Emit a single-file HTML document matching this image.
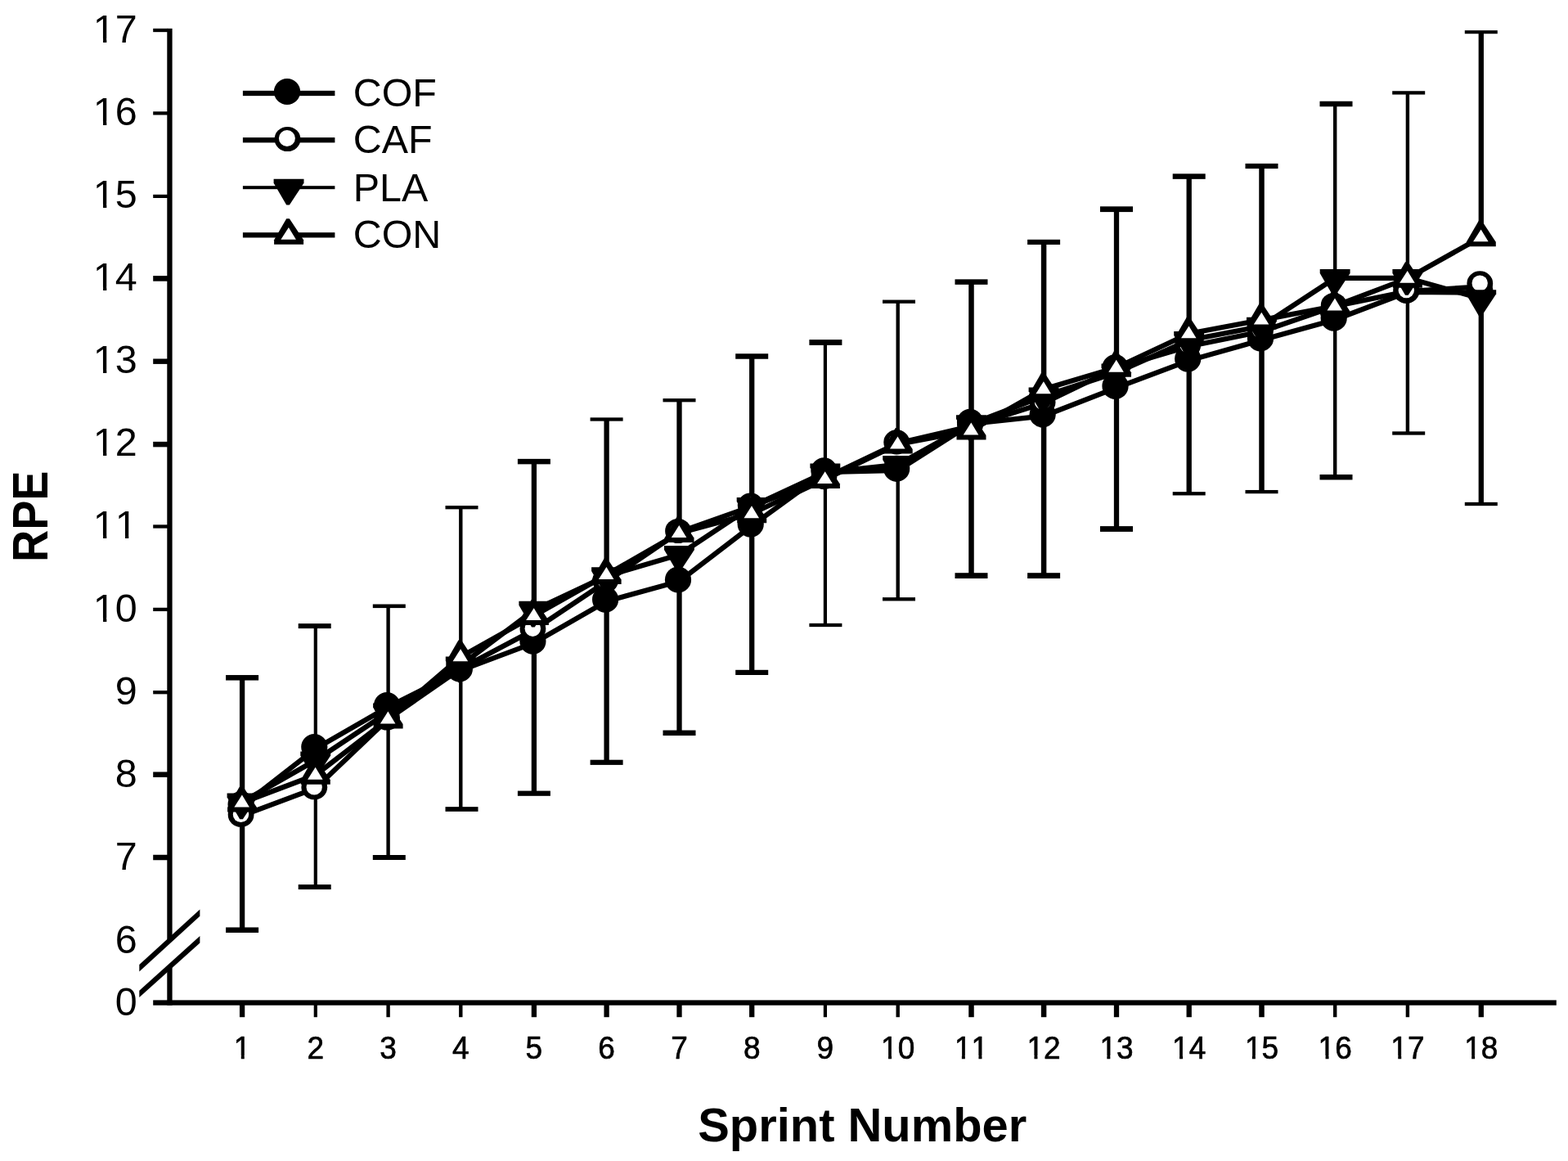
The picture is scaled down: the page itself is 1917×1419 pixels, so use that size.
<!DOCTYPE html>
<html lang="en"><head><meta charset="utf-8"><title>RPE by Sprint Number</title>
<style>
html,body{margin:0;padding:0;background:#fff;}
body{width:1917px;height:1419px;overflow:hidden;}
svg{display:block;}
text{font-family:"Liberation Sans",Arial,Helvetica,sans-serif;fill:#000;font-kerning:none;}
.b{font-weight:bold;}
.k{fill:#000;} .w{fill:#fff;}
.ln{fill:none;stroke:#000;stroke-linejoin:miter;stroke-linecap:butt;}
</style></head><body>
<svg width="1917" height="1419" viewBox="0 0 1917 1419">
<rect x="0" y="0" width="1917" height="1419" fill="#fff"/>
<g id="axes">
<rect class="k" x="204.3" y="34.85" width="6.3" height="1193.85"/>
<rect class="k" x="187.2" y="1222.4" width="1715.6" height="6.3"/>
<rect class="k" x="187.2" y="34.85" width="18.1" height="4.3"/>
<rect class="k" x="187.2" y="136.3" width="18.1" height="4.2"/>
<rect class="k" x="187.2" y="237.8" width="18.1" height="4.2"/>
<rect class="k" x="187.2" y="337.1" width="18.1" height="6.6"/>
<rect class="k" x="187.2" y="438.5" width="18.1" height="6.4"/>
<rect class="k" x="187.2" y="539.85" width="18.1" height="6.5"/>
<rect class="k" x="187.2" y="641.35" width="18.1" height="4.3"/>
<rect class="k" x="187.2" y="742.75" width="18.1" height="4.3"/>
<rect class="k" x="187.2" y="844.05" width="18.1" height="4.3"/>
<rect class="k" x="187.2" y="943.45" width="18.1" height="6.5"/>
<rect class="k" x="187.2" y="1044.75" width="18.1" height="6.5"/>
<rect class="k" x="292.95" y="1227.7" width="6.3" height="15.5"/>
<rect class="k" x="383.7" y="1227.7" width="4.2" height="15.5"/>
<rect class="k" x="472.4" y="1227.7" width="4.4" height="15.5"/>
<rect class="k" x="561.1" y="1227.7" width="4.4" height="15.5"/>
<rect class="k" x="649.75" y="1227.7" width="6.3" height="15.5"/>
<rect class="k" x="738.45" y="1227.7" width="6.3" height="15.5"/>
<rect class="k" x="827.35" y="1227.7" width="6.3" height="15.5"/>
<rect class="k" x="916.05" y="1227.7" width="6.3" height="15.5"/>
<rect class="k" x="1006.8" y="1227.7" width="4.2" height="15.5"/>
<rect class="k" x="1095.5" y="1227.7" width="4.4" height="15.5"/>
<rect class="k" x="1184.25" y="1227.7" width="6.5" height="15.5"/>
<rect class="k" x="1272.85" y="1227.7" width="6.5" height="15.5"/>
<rect class="k" x="1361.85" y="1227.7" width="6.3" height="15.5"/>
<rect class="k" x="1450.55" y="1227.7" width="6.3" height="15.5"/>
<rect class="k" x="1539.25" y="1227.7" width="6.5" height="15.5"/>
<rect class="k" x="1630" y="1227.7" width="4.4" height="15.5"/>
<rect class="k" x="1718.7" y="1227.7" width="4.4" height="15.5"/>
<rect class="k" x="1807.65" y="1227.7" width="6.3" height="15.5"/>
</g>
<g id="axis-break">
<polygon class="w" points="170.3,1183.3 244.4,1115.6 244.4,1148.3 170.3,1214.9"/>
<polygon class="k" points="170.3,1179.1 244.4,1111.4 244.4,1119.8 170.3,1187.5"/>
<polygon class="k" points="170.3,1210.7 244.4,1144.1 244.4,1152.5 170.3,1219.1"/>
</g>
<g id="errorbars">
<rect class="k" x="292.95" y="828.3" width="6.3" height="151.7"/>
<rect class="k" x="292.95" y="995.7" width="6.3" height="141"/>
<rect class="k" x="276.1" y="825.05" width="40" height="6.5"/>
<rect class="k" x="276.1" y="1133.45" width="40" height="6.5"/>
<rect class="k" x="383.7" y="765.1" width="4.2" height="147.9"/>
<rect class="k" x="383.7" y="962.2" width="4.2" height="121.9"/>
<rect class="k" x="364.7" y="762.1" width="40" height="6"/>
<rect class="k" x="364.7" y="1081.1" width="40" height="6"/>
<rect class="k" x="472.4" y="740.8" width="4.4" height="121.2"/>
<rect class="k" x="472.4" y="879" width="4.4" height="169"/>
<rect class="k" x="455.8" y="738.5" width="40" height="4.6"/>
<rect class="k" x="455.8" y="1045" width="40" height="6"/>
<rect class="k" x="561.1" y="620.2" width="4.4" height="182.5"/>
<rect class="k" x="561.1" y="817.4" width="4.4" height="171.6"/>
<rect class="k" x="544.5" y="618.05" width="40" height="4.3"/>
<rect class="k" x="544.5" y="986.15" width="40" height="5.7"/>
<rect class="k" x="649.75" y="564.1" width="6.3" height="181.2"/>
<rect class="k" x="649.75" y="783.8" width="6.3" height="185.9"/>
<rect class="k" x="632.9" y="560.85" width="40" height="6.5"/>
<rect class="k" x="632.9" y="966.6" width="40" height="6.2"/>
<rect class="k" x="738.45" y="512.5" width="6.3" height="190"/>
<rect class="k" x="738.45" y="732.8" width="6.3" height="199"/>
<rect class="k" x="721.6" y="510.35" width="40" height="4.3"/>
<rect class="k" x="721.6" y="928.7" width="40" height="6.2"/>
<rect class="k" x="827.35" y="489.2" width="6.3" height="159.8"/>
<rect class="k" x="827.35" y="708.5" width="6.3" height="187.3"/>
<rect class="k" x="810.5" y="487.05" width="40" height="4.3"/>
<rect class="k" x="810.5" y="892.55" width="40" height="6.5"/>
<rect class="k" x="916.05" y="435.5" width="6.3" height="182.1"/>
<rect class="k" x="916.05" y="640.6" width="6.3" height="181.3"/>
<rect class="k" x="899.2" y="432.25" width="40" height="6.5"/>
<rect class="k" x="899.2" y="818.8" width="40" height="6.2"/>
<rect class="k" x="1006.8" y="418.5" width="4.2" height="156.7"/>
<rect class="k" x="1006.8" y="585.6" width="4.2" height="178.4"/>
<rect class="k" x="989.4" y="415.1" width="40" height="6.8"/>
<rect class="k" x="989.4" y="761.85" width="40" height="4.3"/>
<rect class="k" x="1095.5" y="368.7" width="4.4" height="171.7"/>
<rect class="k" x="1095.5" y="572.8" width="4.4" height="159.5"/>
<rect class="k" x="1079" y="366.55" width="40" height="4.3"/>
<rect class="k" x="1079" y="730.15" width="40" height="4.3"/>
<rect class="k" x="1184.25" y="344.6" width="6.5" height="171.2"/>
<rect class="k" x="1184.25" y="526" width="6.5" height="177.6"/>
<rect class="k" x="1167.5" y="341.35" width="40" height="6.5"/>
<rect class="k" x="1167.5" y="700.2" width="40" height="6.8"/>
<rect class="k" x="1272.85" y="295.9" width="6.5" height="179.8"/>
<rect class="k" x="1272.85" y="506.5" width="6.5" height="197.1"/>
<rect class="k" x="1256.1" y="292.8" width="40" height="6.2"/>
<rect class="k" x="1256.1" y="700.2" width="40" height="6.8"/>
<rect class="k" x="1361.85" y="255.7" width="6.3" height="192.7"/>
<rect class="k" x="1361.85" y="471.9" width="6.3" height="174.6"/>
<rect class="k" x="1345" y="252.3" width="40" height="6.8"/>
<rect class="k" x="1345" y="643.1" width="40" height="6.8"/>
<rect class="k" x="1450.55" y="215.6" width="6.3" height="192.2"/>
<rect class="k" x="1450.55" y="438.6" width="6.3" height="164.7"/>
<rect class="k" x="1433.7" y="212.35" width="40" height="6.5"/>
<rect class="k" x="1433.7" y="601.15" width="40" height="4.3"/>
<rect class="k" x="1539.25" y="203" width="6.5" height="188.1"/>
<rect class="k" x="1539.25" y="413.5" width="6.5" height="187.6"/>
<rect class="k" x="1522.5" y="199.9" width="40" height="6.2"/>
<rect class="k" x="1522.5" y="598.95" width="40" height="4.3"/>
<rect class="k" x="1630" y="127" width="4.4" height="212.5"/>
<rect class="k" x="1630" y="388.7" width="4.4" height="194.5"/>
<rect class="k" x="1613.5" y="123.75" width="40" height="6.5"/>
<rect class="k" x="1613.5" y="579.95" width="40" height="6.5"/>
<rect class="k" x="1718.7" y="113.4" width="4.4" height="226.1"/>
<rect class="k" x="1718.7" y="355" width="4.4" height="174.5"/>
<rect class="k" x="1702.2" y="111.25" width="40" height="4.3"/>
<rect class="k" x="1702.2" y="527.35" width="40" height="4.3"/>
<rect class="k" x="1807.65" y="39.2" width="6.3" height="250.6"/>
<rect class="k" x="1807.65" y="364.8" width="6.3" height="251.2"/>
<rect class="k" x="1790.8" y="37.15" width="40" height="4.1"/>
<rect class="k" x="1790.8" y="613.85" width="40" height="4.3"/>
</g>
<g id="series-cof">
<polyline class="ln" stroke-width="6.2" points="296.1,985 385.8,915 474.6,864 563.3,819.4 652.9,785.8 741.6,734.8 830.5,710.5 919.2,642.6 1008.9,577.2 1097.7,574.8 1187.5,517.8 1276.1,508.5 1365,473.9 1453.7,440.6 1542.5,415.5 1632.2,390.7 1720.9,357 1810.8,357.7"/>
<ellipse class="k" cx="294.6" cy="983" rx="16.1" ry="16"/>
<ellipse class="k" cx="384.3" cy="913" rx="16.1" ry="16"/>
<ellipse class="k" cx="473.1" cy="862" rx="16.1" ry="16"/>
<ellipse class="k" cx="561.8" cy="817.4" rx="16.1" ry="16"/>
<ellipse class="k" cx="651.4" cy="783.8" rx="16.1" ry="16"/>
<ellipse class="k" cx="740.1" cy="732.8" rx="16.1" ry="16"/>
<ellipse class="k" cx="829" cy="708.5" rx="16.1" ry="16"/>
<ellipse class="k" cx="917.7" cy="640.6" rx="16.1" ry="16"/>
<ellipse class="k" cx="1007.4" cy="575.2" rx="16.1" ry="16"/>
<ellipse class="k" cx="1096.2" cy="572.8" rx="16.1" ry="16"/>
<ellipse class="k" cx="1186" cy="515.8" rx="16.1" ry="16"/>
<ellipse class="k" cx="1274.6" cy="506.5" rx="16.1" ry="16"/>
<ellipse class="k" cx="1363.5" cy="471.9" rx="16.1" ry="16"/>
<ellipse class="k" cx="1452.2" cy="438.6" rx="16.1" ry="16"/>
<ellipse class="k" cx="1541" cy="413.5" rx="16.1" ry="16"/>
<ellipse class="k" cx="1630.7" cy="388.7" rx="16.1" ry="16"/>
<ellipse class="k" cx="1719.4" cy="355" rx="16.1" ry="16"/>
<ellipse class="k" cx="1809.3" cy="355.7" rx="16.1" ry="16"/>
</g>
<g id="series-caf">
<polyline class="ln" stroke-width="6.2" points="296.1,996.9 385.8,963.4 474.6,878.7 563.3,817.2 652.9,769.8 741.6,710.7 830.5,650.2 919.2,618.8 1008.9,584.2 1097.7,541.6 1187.5,520.7 1276.1,492.7 1365,449.6 1453.7,423.2 1542.5,405.2 1632.2,374.2 1720.9,356.2 1810.8,350.3"/>
<ellipse class="k" cx="294.6" cy="995.7" rx="15.9" ry="15.1"/><ellipse class="w" cx="294.5" cy="995.4" rx="9.7" ry="9.6"/>
<ellipse class="k" cx="384.3" cy="962.2" rx="15.9" ry="15.1"/><ellipse class="w" cx="384.2" cy="961.9" rx="9.7" ry="9.6"/>
<ellipse class="k" cx="473.1" cy="877.5" rx="15.9" ry="15.1"/><ellipse class="w" cx="473" cy="877.2" rx="9.7" ry="9.6"/>
<ellipse class="k" cx="561.8" cy="816" rx="15.9" ry="15.1"/><ellipse class="w" cx="561.7" cy="815.7" rx="9.7" ry="9.6"/>
<ellipse class="k" cx="651.4" cy="768.6" rx="15.9" ry="15.1"/><ellipse class="w" cx="651.3" cy="768.3" rx="9.7" ry="9.6"/>
<ellipse class="k" cx="740.1" cy="709.5" rx="15.9" ry="15.1"/><ellipse class="w" cx="740" cy="709.2" rx="9.7" ry="9.6"/>
<ellipse class="k" cx="829" cy="649" rx="15.9" ry="15.1"/><ellipse class="w" cx="828.9" cy="648.7" rx="9.7" ry="9.6"/>
<ellipse class="k" cx="917.7" cy="617.6" rx="15.9" ry="15.1"/><ellipse class="w" cx="917.6" cy="617.3" rx="9.7" ry="9.6"/>
<ellipse class="k" cx="1007.4" cy="583" rx="15.9" ry="15.1"/><ellipse class="w" cx="1007.3" cy="582.7" rx="9.7" ry="9.6"/>
<ellipse class="k" cx="1096.2" cy="540.4" rx="15.9" ry="15.1"/><ellipse class="w" cx="1096.1" cy="540.1" rx="9.7" ry="9.6"/>
<ellipse class="k" cx="1186" cy="519.5" rx="15.9" ry="15.1"/><ellipse class="w" cx="1185.9" cy="519.2" rx="9.7" ry="9.6"/>
<ellipse class="k" cx="1274.6" cy="491.5" rx="15.9" ry="15.1"/><ellipse class="w" cx="1274.5" cy="491.2" rx="9.7" ry="9.6"/>
<ellipse class="k" cx="1363.5" cy="448.4" rx="15.9" ry="15.1"/><ellipse class="w" cx="1363.4" cy="448.1" rx="9.7" ry="9.6"/>
<ellipse class="k" cx="1452.2" cy="422" rx="15.9" ry="15.1"/><ellipse class="w" cx="1452.1" cy="421.7" rx="9.7" ry="9.6"/>
<ellipse class="k" cx="1541" cy="404" rx="15.9" ry="15.1"/><ellipse class="w" cx="1540.9" cy="403.7" rx="9.7" ry="9.6"/>
<ellipse class="k" cx="1630.7" cy="373" rx="15.9" ry="15.1"/><ellipse class="w" cx="1630.6" cy="372.7" rx="9.7" ry="9.6"/>
<ellipse class="k" cx="1719.4" cy="355" rx="15.9" ry="15.1"/><ellipse class="w" cx="1719.3" cy="354.7" rx="9.7" ry="9.6"/>
<ellipse class="k" cx="1809.3" cy="346.4" rx="15.9" ry="15.1"/><ellipse class="w" cx="1809.2" cy="346.1" rx="9.7" ry="9.6"/>
</g>
<g id="series-pla">
<polyline class="ln" stroke-width="6.2" points="296.1,980.3 385.8,929.3 474.6,870.3 563.3,813.3 652.9,745.6 741.6,704 830.5,677.9 919.2,618.9 1008.9,577.3 1097.7,567.9 1187.5,518 1276.1,484.2 1365,455.3 1453.7,415.8 1542.5,398.6 1632.2,339.8 1720.9,339.8 1810.8,365.1"/>
<polygon class="k" points="277.6,969.5 314.5,969.5 314.5,974.4 296.9,1001.2 293.2,1001.2 277.6,974.4"/>
<polygon class="k" points="367.3,918.5 404.2,918.5 404.2,923.4 386.6,950.2 382.9,950.2 367.3,923.4"/>
<polygon class="k" points="456.1,859.5 493,859.5 493,864.4 475.4,891.2 471.7,891.2 456.1,864.4"/>
<polygon class="k" points="544.8,802.5 581.7,802.5 581.7,807.4 564.1,834.2 560.4,834.2 544.8,807.4"/>
<polygon class="k" points="634.4,734.8 671.3,734.8 671.3,739.7 653.7,766.5 650,766.5 634.4,739.7"/>
<polygon class="k" points="723.1,693.2 760,693.2 760,698.1 742.4,724.9 738.7,724.9 723.1,698.1"/>
<polygon class="k" points="812,667.1 848.9,667.1 848.9,672 831.3,698.8 827.6,698.8 812,672"/>
<polygon class="k" points="900.7,608.1 937.6,608.1 937.6,613 920,639.8 916.3,639.8 900.7,613"/>
<polygon class="k" points="990.4,566.5 1027.3,566.5 1027.3,571.4 1009.7,598.2 1006,598.2 990.4,571.4"/>
<polygon class="k" points="1079.2,557.1 1116.1,557.1 1116.1,562 1098.5,588.8 1094.8,588.8 1079.2,562"/>
<polygon class="k" points="1169,507.2 1205.9,507.2 1205.9,512.1 1188.3,538.9 1184.6,538.9 1169,512.1"/>
<polygon class="k" points="1257.6,473.4 1294.5,473.4 1294.5,478.3 1276.9,505.1 1273.2,505.1 1257.6,478.3"/>
<polygon class="k" points="1346.5,444.5 1383.4,444.5 1383.4,449.4 1365.8,476.2 1362.1,476.2 1346.5,449.4"/>
<polygon class="k" points="1435.2,405 1472.1,405 1472.1,409.9 1454.5,436.7 1450.8,436.7 1435.2,409.9"/>
<polygon class="k" points="1524,387.8 1560.9,387.8 1560.9,392.7 1543.3,419.5 1539.6,419.5 1524,392.7"/>
<polygon class="k" points="1613.7,329 1650.6,329 1650.6,333.9 1633,360.7 1629.3,360.7 1613.7,333.9"/>
<polygon class="k" points="1702.4,329 1739.3,329 1739.3,333.9 1721.7,360.7 1718,360.7 1702.4,333.9"/>
<polygon class="k" points="1792.3,354.3 1829.2,354.3 1829.2,359.2 1811.6,386 1807.9,386 1792.3,359.2"/>
</g>
<g id="series-con">
<polyline class="ln" stroke-width="6.2" points="296.1,981 385.8,947.2 474.6,879 563.3,802.7 652.9,752.6 741.6,702.5 830.5,651.5 919.2,627.7 1008.9,585.6 1097.7,543 1187.5,526 1276.1,475.7 1365,449.2 1453.7,407.8 1542.5,391.1 1632.2,374 1720.9,340.3 1810.8,289.8"/>
<polygon class="k" points="278.1,992.5 314.1,992.5 314.1,987 296.9,960.9 293.2,960.9 278.1,987"/><polygon class="w" points="286.4,986.5 304.9,986.5 295.9,971.6"/>
<polygon class="k" points="367.8,958.7 403.8,958.7 403.8,953.2 386.6,927.1 382.9,927.1 367.8,953.2"/><polygon class="w" points="376.1,952.7 394.6,952.7 385.6,937.8"/>
<polygon class="k" points="456.6,890.5 492.6,890.5 492.6,885 475.4,858.9 471.7,858.9 456.6,885"/><polygon class="w" points="464.9,884.5 483.4,884.5 474.4,869.6"/>
<polygon class="k" points="545.3,814.2 581.3,814.2 581.3,808.7 564.1,782.6 560.4,782.6 545.3,808.7"/><polygon class="w" points="553.6,808.2 572.1,808.2 563.1,793.3"/>
<polygon class="k" points="634.9,764.1 670.9,764.1 670.9,758.6 653.7,732.5 650,732.5 634.9,758.6"/><polygon class="w" points="643.2,758.1 661.7,758.1 652.7,743.2"/>
<polygon class="k" points="723.6,714 759.6,714 759.6,708.5 742.4,682.4 738.7,682.4 723.6,708.5"/><polygon class="w" points="731.9,708 750.4,708 741.4,693.1"/>
<polygon class="k" points="812.5,663 848.5,663 848.5,657.5 831.3,631.4 827.6,631.4 812.5,657.5"/><polygon class="w" points="820.8,657 839.3,657 830.3,642.1"/>
<polygon class="k" points="901.2,639.2 937.2,639.2 937.2,633.7 920,607.6 916.3,607.6 901.2,633.7"/><polygon class="w" points="909.5,633.2 928,633.2 919,618.3"/>
<polygon class="k" points="990.9,597.1 1026.9,597.1 1026.9,591.6 1009.7,565.5 1006,565.5 990.9,591.6"/><polygon class="w" points="999.2,591.1 1017.7,591.1 1008.7,576.2"/>
<polygon class="k" points="1079.7,554.5 1115.7,554.5 1115.7,549 1098.5,522.9 1094.8,522.9 1079.7,549"/><polygon class="w" points="1088,548.5 1106.5,548.5 1097.5,533.6"/>
<polygon class="k" points="1169.5,537.5 1205.5,537.5 1205.5,532 1188.3,505.9 1184.6,505.9 1169.5,532"/><polygon class="w" points="1177.8,531.5 1196.3,531.5 1187.3,516.6"/>
<polygon class="k" points="1258.1,487.2 1294.1,487.2 1294.1,481.7 1276.9,455.6 1273.2,455.6 1258.1,481.7"/><polygon class="w" points="1266.4,481.2 1284.9,481.2 1275.9,466.3"/>
<polygon class="k" points="1347,460.7 1383,460.7 1383,455.2 1365.8,429.1 1362.1,429.1 1347,455.2"/><polygon class="w" points="1355.3,454.7 1373.8,454.7 1364.8,439.8"/>
<polygon class="k" points="1435.7,419.3 1471.7,419.3 1471.7,413.8 1454.5,387.7 1450.8,387.7 1435.7,413.8"/><polygon class="w" points="1444,413.3 1462.5,413.3 1453.5,398.4"/>
<polygon class="k" points="1524.5,402.6 1560.5,402.6 1560.5,397.1 1543.3,371 1539.6,371 1524.5,397.1"/><polygon class="w" points="1532.8,396.6 1551.3,396.6 1542.3,381.7"/>
<polygon class="k" points="1614.2,385.5 1650.2,385.5 1650.2,380 1633,353.9 1629.3,353.9 1614.2,380"/><polygon class="w" points="1622.5,379.5 1641,379.5 1632,364.6"/>
<polygon class="k" points="1702.9,351.8 1738.9,351.8 1738.9,346.3 1721.7,320.2 1718,320.2 1702.9,346.3"/><polygon class="w" points="1711.2,345.8 1729.7,345.8 1720.7,330.9"/>
<polygon class="k" points="1792.8,301.3 1828.8,301.3 1828.8,295.8 1811.6,269.7 1807.9,269.7 1792.8,295.8"/><polygon class="w" points="1801.1,295.3 1819.6,295.3 1810.6,280.4"/>
</g>
<g id="legend">
<g>
<rect class="k" x="296.9" y="110.85" width="112.5" height="6.3"/>
</g>
<ellipse class="k" cx="351" cy="112" rx="16.1" ry="16"/>
<g>
<rect class="k" x="296.9" y="168.05" width="112.5" height="6.3"/>
</g>
<ellipse class="k" cx="351.5" cy="170" rx="15.9" ry="15.1"/><ellipse class="w" cx="350.9" cy="169" rx="10" ry="10"/>
<g>
<rect class="k" x="296.9" y="227.2" width="112.5" height="4"/>
</g>
<polygon class="k" points="334.6,218.8 371.5,218.8 371.5,223.7 353.9,250.5 350.2,250.5 334.6,223.7"/>
<g>
<rect class="k" x="296.9" y="284.15" width="112.5" height="6.3"/>
</g>
<polygon class="k" points="335.1,298.8 371.1,298.8 371.1,293.3 353.9,267.2 350.2,267.2 335.1,293.3"/><polygon class="w" points="343.4,292.8 361.9,292.8 352.9,277.9"/>
</g>
<g id="legend-labels">
<text transform="translate(431.7 129.9) scale(0.9880 1.0000)" font-size="49" text-anchor="start">COF</text>
<text transform="translate(431.7 186.9) scale(0.9880 1.0000)" font-size="49" text-anchor="start">CAF</text>
<text transform="translate(431.7 245.7) scale(0.9880 1.0000)" font-size="49" text-anchor="start">PLA</text>
<text transform="translate(431.7 302.9) scale(0.9880 1.0000)" font-size="49" text-anchor="start">CON</text>
</g>
<g id="y-tick-labels">
<text transform="translate(167.8 51.7) scale(1.0000 1.0000)" font-size="48.5" text-anchor="end">17</text>
<rect class="w" x="115.95" y="47.18" width="10.1" height="5.72"/>
<rect class="w" x="130.34" y="47.18" width="9.72" height="5.72"/>
<text transform="translate(167.8 152.83) scale(1.0000 1.0000)" font-size="48.5" text-anchor="end">16</text>
<rect class="w" x="115.95" y="148.31" width="10.1" height="5.72"/>
<rect class="w" x="130.34" y="148.31" width="9.72" height="5.72"/>
<text transform="translate(167.8 253.96) scale(1.0000 1.0000)" font-size="48.5" text-anchor="end">15</text>
<rect class="w" x="115.95" y="249.44" width="10.1" height="5.72"/>
<rect class="w" x="130.34" y="249.44" width="9.72" height="5.72"/>
<text transform="translate(167.8 355.09) scale(1.0000 1.0000)" font-size="48.5" text-anchor="end">14</text>
<rect class="w" x="115.95" y="350.57" width="10.1" height="5.72"/>
<rect class="w" x="130.34" y="350.57" width="9.72" height="5.72"/>
<text transform="translate(167.8 456.22) scale(1.0000 1.0000)" font-size="48.5" text-anchor="end">13</text>
<rect class="w" x="115.95" y="451.7" width="10.1" height="5.72"/>
<rect class="w" x="130.34" y="451.7" width="9.72" height="5.72"/>
<text transform="translate(167.8 557.35) scale(1.0000 1.0000)" font-size="48.5" text-anchor="end">12</text>
<rect class="w" x="115.95" y="552.83" width="10.1" height="5.72"/>
<rect class="w" x="130.34" y="552.83" width="9.72" height="5.72"/>
<text transform="translate(167.8 658.48) scale(1.0000 1.0000)" font-size="48.5" text-anchor="end">11</text>
<rect class="w" x="115.95" y="653.96" width="10.1" height="5.72"/>
<rect class="w" x="130.34" y="653.96" width="9.72" height="5.72"/>
<rect class="w" x="142.92" y="653.96" width="10.1" height="5.72"/>
<rect class="w" x="157.31" y="653.96" width="9.72" height="5.72"/>
<text transform="translate(167.8 759.61) scale(1.0000 1.0000)" font-size="48.5" text-anchor="end">10</text>
<rect class="w" x="115.95" y="755.09" width="10.1" height="5.72"/>
<rect class="w" x="130.34" y="755.09" width="9.72" height="5.72"/>
<text transform="translate(167.8 860.74) scale(1.0000 1.0000)" font-size="48.5" text-anchor="end">9</text>
<text transform="translate(167.8 961.87) scale(1.0000 1.0000)" font-size="48.5" text-anchor="end">8</text>
<text transform="translate(167.8 1063) scale(1.0000 1.0000)" font-size="48.5" text-anchor="end">7</text>
<text transform="translate(167.8 1165) scale(1.0000 1.0000)" font-size="48.5" text-anchor="end">6</text>
<text transform="translate(167.8 1241) scale(1.0000 1.0000)" font-size="48.5" text-anchor="end">0</text>
</g>
<g id="x-tick-labels">
<text transform="translate(296.1 1294.2) scale(0.9400 1.0000)" font-size="39.4" text-anchor="middle" stroke="#000" stroke-width="0.7" stroke-linejoin="round">1</text>
<rect class="w" x="286.67" y="1290.01" width="8.09" height="5.74"/>
<rect class="w" x="298.74" y="1290.01" width="7.8" height="5.74"/>
<text transform="translate(385.8 1294.2) scale(0.9400 1.0000)" font-size="39.4" text-anchor="middle" stroke="#000" stroke-width="0.7" stroke-linejoin="round">2</text>
<text transform="translate(474.6 1294.2) scale(0.9400 1.0000)" font-size="39.4" text-anchor="middle" stroke="#000" stroke-width="0.7" stroke-linejoin="round">3</text>
<text transform="translate(563.3 1294.2) scale(0.9400 1.0000)" font-size="39.4" text-anchor="middle" stroke="#000" stroke-width="0.7" stroke-linejoin="round">4</text>
<text transform="translate(652.9 1294.2) scale(0.9400 1.0000)" font-size="39.4" text-anchor="middle" stroke="#000" stroke-width="0.7" stroke-linejoin="round">5</text>
<text transform="translate(741.6 1294.2) scale(0.9400 1.0000)" font-size="39.4" text-anchor="middle" stroke="#000" stroke-width="0.7" stroke-linejoin="round">6</text>
<text transform="translate(830.5 1294.2) scale(0.9400 1.0000)" font-size="39.4" text-anchor="middle" stroke="#000" stroke-width="0.7" stroke-linejoin="round">7</text>
<text transform="translate(919.2 1294.2) scale(0.9400 1.0000)" font-size="39.4" text-anchor="middle" stroke="#000" stroke-width="0.7" stroke-linejoin="round">8</text>
<text transform="translate(1008.9 1294.2) scale(0.9400 1.0000)" font-size="39.4" text-anchor="middle" stroke="#000" stroke-width="0.7" stroke-linejoin="round">9</text>
<text transform="translate(1097.7 1294.2) scale(0.9400 1.0000)" font-size="39.4" text-anchor="middle" stroke="#000" stroke-width="0.7" stroke-linejoin="round">10</text>
<rect class="w" x="1077.97" y="1290.01" width="8.09" height="5.74"/>
<rect class="w" x="1090.04" y="1290.01" width="7.8" height="5.74"/>
<text transform="translate(1187.5 1294.2) scale(0.9400 1.0000)" font-size="39.4" text-anchor="middle" stroke="#000" stroke-width="0.7" stroke-linejoin="round">11</text>
<rect class="w" x="1167.77" y="1290.01" width="8.09" height="5.74"/>
<rect class="w" x="1179.84" y="1290.01" width="7.8" height="5.74"/>
<rect class="w" x="1188.37" y="1290.01" width="8.09" height="5.74"/>
<rect class="w" x="1200.44" y="1290.01" width="7.8" height="5.74"/>
<text transform="translate(1276.1 1294.2) scale(0.9400 1.0000)" font-size="39.4" text-anchor="middle" stroke="#000" stroke-width="0.7" stroke-linejoin="round">12</text>
<rect class="w" x="1256.37" y="1290.01" width="8.09" height="5.74"/>
<rect class="w" x="1268.44" y="1290.01" width="7.8" height="5.74"/>
<text transform="translate(1365 1294.2) scale(0.9400 1.0000)" font-size="39.4" text-anchor="middle" stroke="#000" stroke-width="0.7" stroke-linejoin="round">13</text>
<rect class="w" x="1345.27" y="1290.01" width="8.09" height="5.74"/>
<rect class="w" x="1357.34" y="1290.01" width="7.8" height="5.74"/>
<text transform="translate(1453.7 1294.2) scale(0.9400 1.0000)" font-size="39.4" text-anchor="middle" stroke="#000" stroke-width="0.7" stroke-linejoin="round">14</text>
<rect class="w" x="1433.97" y="1290.01" width="8.09" height="5.74"/>
<rect class="w" x="1446.04" y="1290.01" width="7.8" height="5.74"/>
<text transform="translate(1542.5 1294.2) scale(0.9400 1.0000)" font-size="39.4" text-anchor="middle" stroke="#000" stroke-width="0.7" stroke-linejoin="round">15</text>
<rect class="w" x="1522.77" y="1290.01" width="8.09" height="5.74"/>
<rect class="w" x="1534.84" y="1290.01" width="7.8" height="5.74"/>
<text transform="translate(1632.2 1294.2) scale(0.9400 1.0000)" font-size="39.4" text-anchor="middle" stroke="#000" stroke-width="0.7" stroke-linejoin="round">16</text>
<rect class="w" x="1612.47" y="1290.01" width="8.09" height="5.74"/>
<rect class="w" x="1624.54" y="1290.01" width="7.8" height="5.74"/>
<text transform="translate(1720.9 1294.2) scale(0.9400 1.0000)" font-size="39.4" text-anchor="middle" stroke="#000" stroke-width="0.7" stroke-linejoin="round">17</text>
<rect class="w" x="1701.17" y="1290.01" width="8.09" height="5.74"/>
<rect class="w" x="1713.24" y="1290.01" width="7.8" height="5.74"/>
<text transform="translate(1810.8 1294.2) scale(0.9400 1.0000)" font-size="39.4" text-anchor="middle" stroke="#000" stroke-width="0.7" stroke-linejoin="round">18</text>
<rect class="w" x="1791.07" y="1290.01" width="8.09" height="5.74"/>
<rect class="w" x="1803.14" y="1290.01" width="7.8" height="5.74"/>
</g>
<text class="b" transform="translate(853.2 1394.8) scale(1.0140 1.0000)" font-size="57.1" text-anchor="start">Sprint Number</text>
<text class="b" transform="translate(58.4 687) rotate(-90) scale(1.0000 1.1340)" font-size="54.2" text-anchor="start">RPE</text>
</svg>
</body></html>
